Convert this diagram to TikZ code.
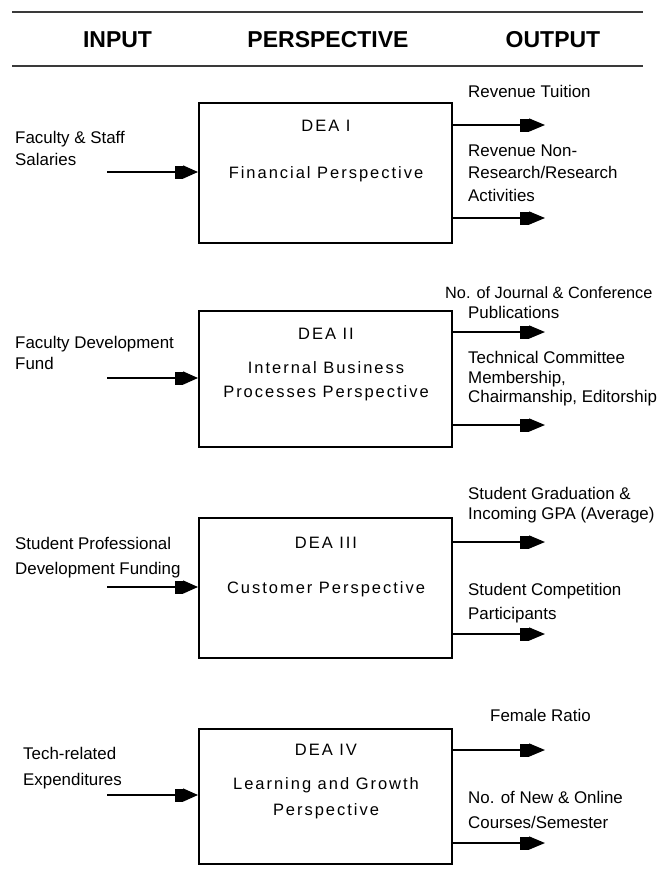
\documentclass[tikz,border=0pt]{standalone}
\usepackage{fontspec}
\setmainfont{Liberation Sans}
\newfontfamily\boxfont[LetterSpace=12]{Liberation Sans}
\usetikzlibrary{arrows.meta}
\definecolor{rulegray}{HTML}{3A3A3A}
\tikzset{
  lab/.style={anchor=base west, inner sep=0pt, font=\fontsize{16.9}{20}\selectfont},
  boxtxt/.style={anchor=base, inner sep=0pt, font=\boxfont\fontsize{16.5}{20}\selectfont},
  hdr/.style={anchor=base, inner sep=0pt, font=\bfseries\fontsize{23}{28}\selectfont},
  dea/.style={draw, line width=2pt, minimum width=253pt, inner sep=0pt},
  hrule/.style={draw=rulegray, line width=2.6pt},
  outarr/.style={line width=1.5pt, -{Rectangle[length=9pt,width=13pt]Triangle[length=16pt,width=13pt]}},
  inarr/.style={line width=1.5pt, -{Rectangle[length=8pt,width=13pt]Triangle[length=15pt,width=13pt]}},
}
\begin{document}
\begin{tikzpicture}[x=1pt,y=-1pt]
\useasboundingbox (0,0) rectangle (660,886);
% header
\coordinate (r1a) at (12,12); \coordinate (r1b) at (643,12);
\coordinate (r2a) at (12,66); \coordinate (r2b) at (643,66);
\draw[hrule] (r1a) -- (r1b);
\draw[hrule] (r2a) -- (r2b);
\node[hdr] (hin) at (117.5,47) {INPUT};
\node[hdr] (hper) at (328,47) {PERSPECTIVE};
\node[hdr] (hout) at (553,47) {OUTPUT};

% boxes
\node[dea, minimum height=140pt] (b1) at (325.5,173) {};
\node[dea, minimum height=136pt] (b2) at (325.5,379) {};
\node[dea, minimum height=140pt] (b3) at (325.5,588) {};
\node[dea, minimum height=135pt] (b4) at (325.5,796.5) {};

% box texts
\node[boxtxt] (t1a) at (326,131) {DEA I};
\node[boxtxt] (t1b) at (326,178) {Financial Perspective};
\node[boxtxt] (t2a) at (326,339) {DEA II};
\node[boxtxt] (t2b) at (326,373) {Internal Business};
\node[boxtxt] (t2c) at (326,397) {Processes Perspective};
\node[boxtxt] (t3a) at (326,548) {DEA III};
\node[boxtxt] (t3b) at (326,593) {Customer Perspective};
\node[boxtxt] (t4a) at (326,755) {DEA IV};
\node[boxtxt] (t4b) at (326,789) {Learning and Growth};
\node[boxtxt] (t4c) at (326,815) {Perspective};

% inputs
\node[lab] (i1a) at (15,143) {Faculty \& Staff};
\node[lab] (i1b) at (15,165) {Salaries};
\node[lab] (i2a) at (15,348) {Faculty Development};
\node[lab] (i2b) at (15,369) {Fund};
\node[lab] (i3a) at (15,549) {Student Professional};
\node[lab] (i3b) at (15,574) {Development Funding};
\node[lab] (i4a) at (23,759) {Tech-related};
\node[lab] (i4b) at (23,785) {Expenditures};

\coordinate (in1) at (107,172);
\coordinate (in2) at (107,378);
\coordinate (in3) at (107,587);
\coordinate (in4) at (107,795);
\draw[inarr] (in1) -- (in1 -| b1.west);
\draw[inarr] (in2) -- (in2 -| b2.west);
\draw[inarr] (in3) -- (in3 -| b3.west);
\draw[inarr] (in4) -- (in4 -| b4.west);

% outputs
\node[lab] (o1a) at (468,97) {Revenue Tuition};
\node[lab] (o1b) at (468,156) {Revenue Non-};
\node[lab] (o1c) at (468,178) {Research/Research};
\node[lab] (o1d) at (468,201) {Activities};
\node[lab, font=\fontsize{16.3}{20}\selectfont] (o2a) at (445,298) {No. of Journal \& Conference};
\node[lab] (o2b) at (468,318) {Publications};
\node[lab] (o2c) at (468,363) {Technical Committee};
\node[lab] (o2d) at (468,383) {Membership,};
\node[lab] (o2e) at (468,402) {Chairmanship, Editorship};
\node[lab] (o3a) at (468,499) {Student Graduation \&};
\node[lab] (o3b) at (468,519) {Incoming GPA (Average)};
\node[lab] (o3c) at (468,595) {Student Competition};
\node[lab] (o3d) at (468,619) {Participants};
\node[lab] (o4a) at (490,721) {Female Ratio};
\node[lab] (o4b) at (468,803) {No. of New \& Online};
\node[lab] (o4c) at (468,828) {Courses/Semester};

\coordinate (e1a) at (545,125);
\coordinate (e1b) at (545,218);
\coordinate (e2a) at (545,332);
\coordinate (e2b) at (545,425);
\coordinate (e3a) at (545,542);
\coordinate (e3b) at (545,634);
\coordinate (e4a) at (545,750);
\coordinate (e4b) at (545,843);
\draw[outarr] (e1a -| b1.east) -- (e1a);
\draw[outarr] (e1b -| b1.east) -- (e1b);
\draw[outarr] (e2a -| b2.east) -- (e2a);
\draw[outarr] (e2b -| b2.east) -- (e2b);
\draw[outarr] (e3a -| b3.east) -- (e3a);
\draw[outarr] (e3b -| b3.east) -- (e3b);
\draw[outarr] (e4a -| b4.east) -- (e4a);
\draw[outarr] (e4b -| b4.east) -- (e4b);
\end{tikzpicture}
\end{document}
